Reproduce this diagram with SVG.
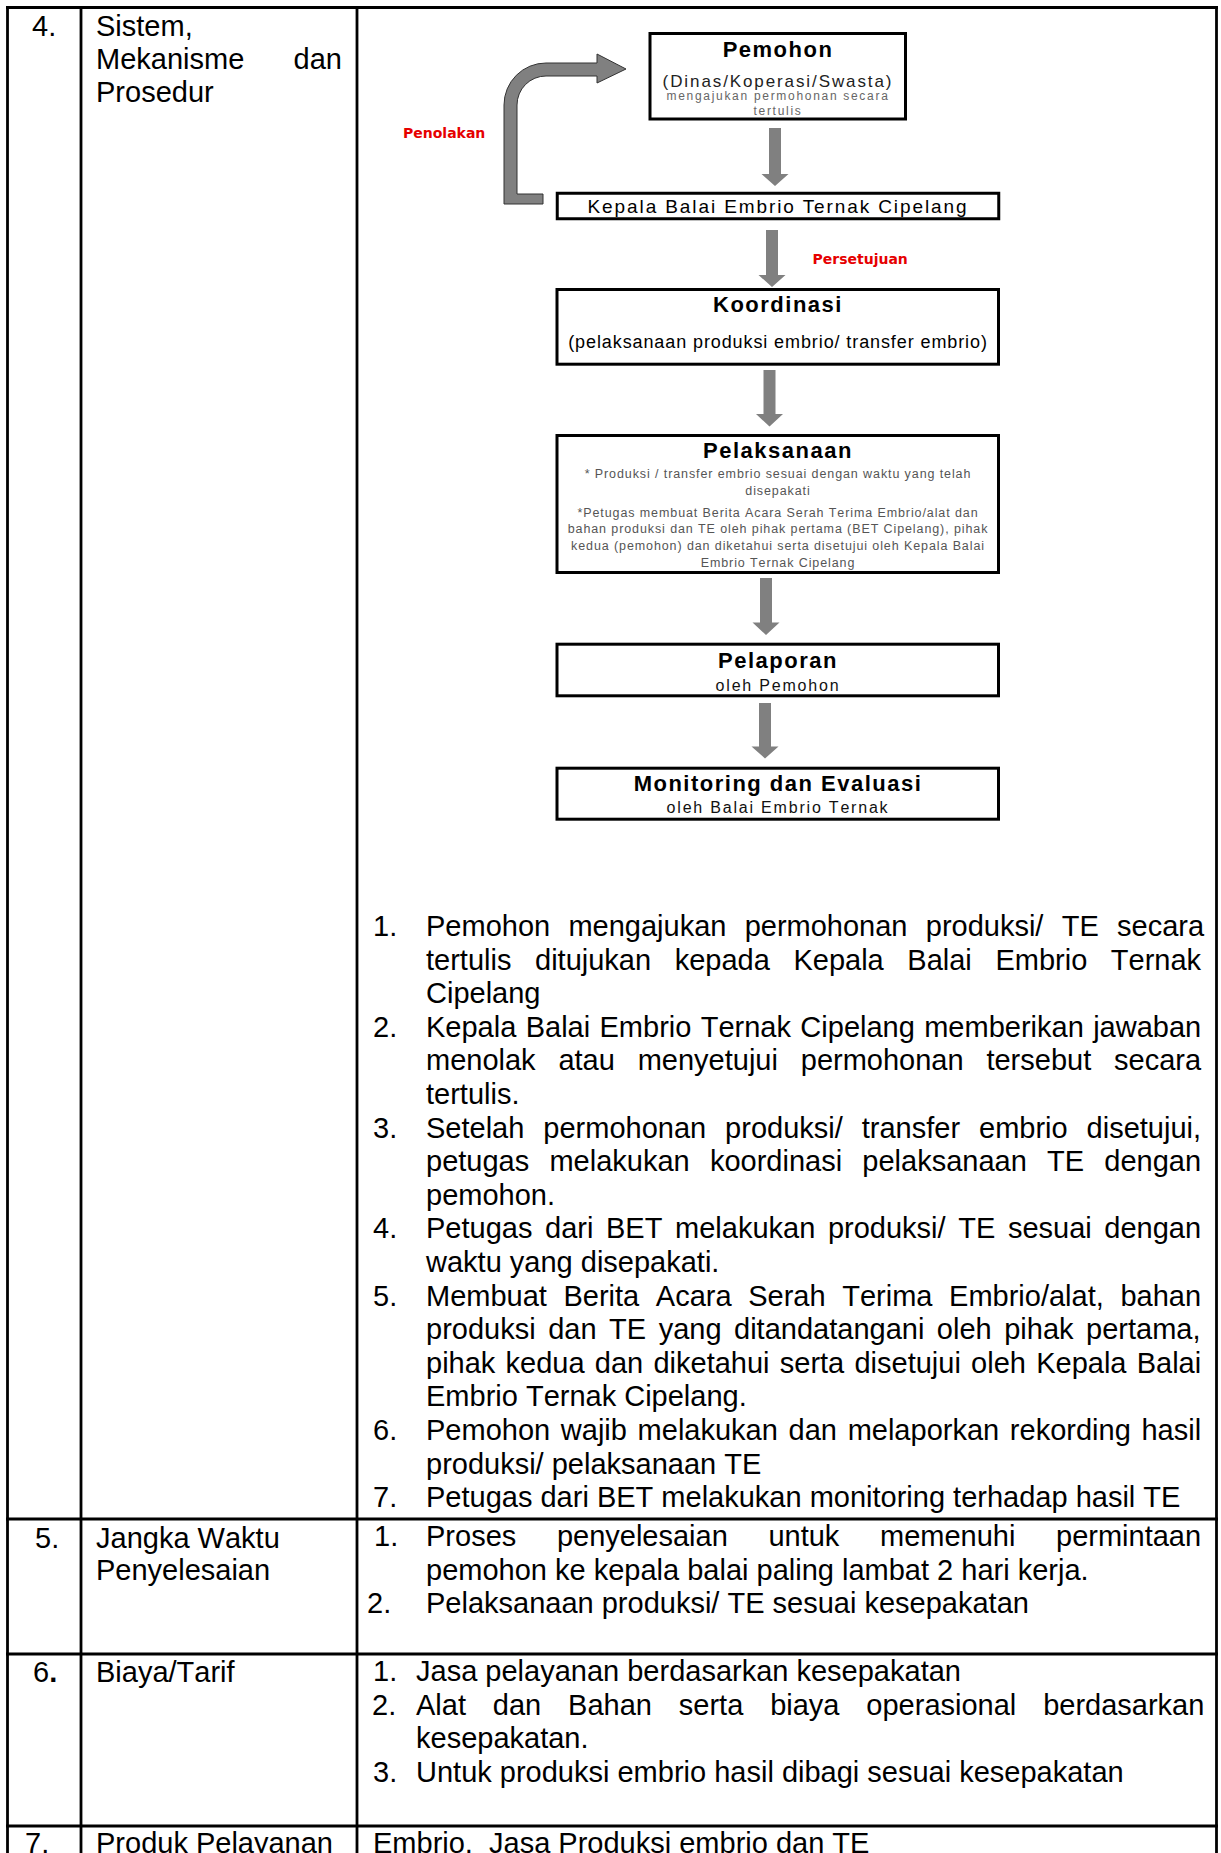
<svg xmlns="http://www.w3.org/2000/svg" width="1221" height="1853" viewBox="0 0 1221 1853">
<style>
.t{font-family:"Liberation Sans",Arial,sans-serif;font-size:29px;fill:#000;font-kerning:none}
.grid{stroke:#000;stroke-width:2.8;fill:none}
.box{fill:#fff;stroke:#000;stroke-width:3}
.hd{font-family:"Liberation Sans",Arial,sans-serif;font-weight:bold;font-size:22px;fill:#000;text-anchor:middle;letter-spacing:1.5px;font-kerning:none}
.sm{font-family:"Liberation Sans",Arial,sans-serif;font-size:12.5px;fill:#555;text-anchor:middle;letter-spacing:0.9px;font-kerning:none}
.md{font-family:"Liberation Sans",Arial,sans-serif;font-size:16px;fill:#111;text-anchor:middle;letter-spacing:1.8px;font-kerning:none}
.red{font-family:"DejaVu Sans",Verdana,sans-serif;font-weight:bold;font-size:14px;fill:#e60000}
.arr{fill:#808080}
</style>
<rect x="0" y="0" width="1221" height="1853" fill="#fff"/>

<g id="table-grid" class="grid">
<line x1="6" y1="7.5" x2="1218" y2="7.5"/>
<line x1="7.5" y1="6" x2="7.5" y2="1853"/>
<line x1="81" y1="6" x2="81" y2="1853"/>
<line x1="357" y1="6" x2="357" y2="1853"/>
<line x1="1216.5" y1="6" x2="1216.5" y2="1853"/>
<line x1="6" y1="1519" x2="1218" y2="1519"/>
<line x1="6" y1="1654" x2="1218" y2="1654"/>
<line x1="6" y1="1826" x2="1218" y2="1826"/>
</g>

<g id="row4-label" class="t">
<text x="32" y="35.5">4.</text>
<text x="96" y="35.5">Sistem,</text>
<text x="96" y="69">Mekanisme</text>
<text x="342" y="69" text-anchor="end">dan</text>
<text x="96" y="102">Prosedur</text>
</g>

<g id="connectors">
<path class="arr" d="M769 128H781V174H788.5L775 186L761.5 174H769Z"/>
<path class="arr" d="M766 230H778V275H785.5L772 287L758.5 275H766Z"/>
<path class="arr" d="M763.5 370H775.5V414H783L769.5 426.5L756 414H763.5Z"/>
<path class="arr" d="M760 578H772V622.5H779.5L766 635L752.5 622.5H760Z"/>
<path class="arr" d="M759 703H771V746.5H778.5L765 758.5L751.5 746.5H759Z"/>
<path id="penolakan-arrow" d="M543 194L517 194L517 105A29 29 0 0 1 546 76L597 76L597 83L626 69L597 54L597 63L546 63A42 42 0 0 0 504 105L504 204L543 204Z" fill="#808080" stroke="#333" stroke-width="1"/>
<text class="red" x="403" y="138">Penolakan</text>
<text class="red" x="812.5" y="264">Persetujuan</text>
</g>

<g id="node-pemohon">
<rect class="box" x="650" y="33.5" width="255.5" height="85.5"/>
<text class="hd" x="778" y="57">Pemohon</text>
<text x="778" y="87.3" font-family="Liberation Sans, Arial, sans-serif" font-size="17" fill="#222" text-anchor="middle" letter-spacing="1.9">(Dinas/Koperasi/Swasta)</text>
<text x="778" y="100" font-family="Liberation Sans, Arial, sans-serif" font-size="12" fill="#666" text-anchor="middle" letter-spacing="1.7">mengajukan permohonan secara</text>
<text x="778" y="115" font-family="Liberation Sans, Arial, sans-serif" font-size="12" fill="#666" text-anchor="middle" letter-spacing="1.7">tertulis</text>
</g>

<g id="node-kepala">
<rect class="box" x="557.25" y="193.25" width="441.5" height="25.5" stroke-width="2.5"/>
<text x="778" y="213.3" font-family="Liberation Sans, Arial, sans-serif" font-size="19" fill="#000" text-anchor="middle" letter-spacing="1.9">Kepala Balai Embrio Ternak Cipelang</text>
</g>

<g id="node-koordinasi">
<rect class="box" x="557" y="289.5" width="441.5" height="74.7"/>
<text class="hd" x="778" y="312.3">Koordinasi</text>
<text x="778" y="348" font-family="Liberation Sans, Arial, sans-serif" font-size="18" fill="#000" text-anchor="middle" letter-spacing="0.9">(pelaksanaan produksi embrio/ transfer embrio)</text>
</g>

<g id="node-pelaksanaan">
<rect class="box" x="557" y="435.5" width="441.5" height="137"/>
<text class="hd" x="778" y="458">Pelaksanaan</text>
<text class="sm" x="778" y="478.3">* Produksi / transfer embrio sesuai dengan waktu yang telah</text>
<text class="sm" x="778" y="495">disepakati</text>
<text class="sm" x="778" y="516.7">*Petugas membuat Berita Acara Serah Terima Embrio/alat dan</text>
<text class="sm" x="778" y="533.3">bahan produksi dan TE oleh pihak pertama (BET Cipelang), pihak</text>
<text class="sm" x="778" y="550">kedua (pemohon) dan diketahui serta disetujui oleh Kepala Balai</text>
<text class="sm" x="778" y="566.7">Embrio Ternak Cipelang</text>
</g>

<g id="node-pelaporan">
<rect class="box" x="557" y="644.2" width="441.5" height="51.6"/>
<text class="hd" x="778" y="668.3">Pelaporan</text>
<text class="md" x="778" y="690.7">oleh Pemohon</text>
</g>

<g id="node-monitoring">
<rect class="box" x="557" y="768.2" width="441.5" height="51"/>
<text class="hd" x="778" y="790.7">Monitoring dan Evaluasi</text>
<text class="md" x="778" y="813.3">oleh Balai Embrio Ternak</text>
</g>

<g id="row4-list" class="t">
<text x="373" y="936">1.</text>
<text x="426" y="936" word-spacing="10.2">Pemohon mengajukan permohonan produksi/ TE secara</text>
<text x="426" y="969.6" word-spacing="15.54">tertulis ditujukan kepada Kepala Balai Embrio Ternak</text>
<text x="426" y="1003.2">Cipelang</text>
<text x="373" y="1036.8">2.</text>
<text x="426" y="1036.8" word-spacing="1.31">Kepala Balai Embrio Ternak Cipelang memberikan jawaban</text>
<text x="426" y="1070.4" word-spacing="14.76">menolak atau menyetujui permohonan tersebut secara</text>
<text x="426" y="1104">tertulis.</text>
<text x="373" y="1137.6">3.</text>
<text x="426" y="1137.6" word-spacing="10.9">Setelah permohonan produksi/ transfer embrio disetujui,</text>
<text x="426" y="1171.2" word-spacing="12.18">petugas melakukan koordinasi pelaksanaan TE dengan</text>
<text x="426" y="1204.8">pemohon.</text>
<text x="373" y="1238.4">4.</text>
<text x="426" y="1238.4" word-spacing="4.57">Petugas dari BET melakukan produksi/ TE sesuai dengan</text>
<text x="426" y="1272">waktu yang disepakati.</text>
<text x="373" y="1305.6">5.</text>
<text x="426" y="1305.6" word-spacing="8.55">Membuat Berita Acara Serah Terima Embrio/alat, bahan</text>
<text x="426" y="1339.2" word-spacing="4.47">produksi dan TE yang ditandatangani oleh pihak pertama,</text>
<text x="426" y="1372.8" word-spacing="2.18">pihak kedua dan diketahui serta disetujui oleh Kepala Balai</text>
<text x="426" y="1406.4">Embrio Ternak Cipelang.</text>
<text x="373" y="1440">6.</text>
<text x="426" y="1440" word-spacing="2.64">Pemohon wajib melakukan dan melaporkan rekording hasil</text>
<text x="426" y="1473.6">produksi/ pelaksanaan TE</text>
<text x="373" y="1507.2">7.</text>
<text x="426" y="1507.2">Petugas dari BET melakukan monitoring terhadap hasil TE</text>
</g>

<g id="row5" class="t">
<text x="35" y="1547.5">5.</text>
<text x="96" y="1547.5">Jangka Waktu</text>
<text x="96" y="1580">Penyelesaian</text>
<text x="374" y="1546">1.</text>
<text x="426" y="1546" word-spacing="32.57">Proses penyelesaian untuk memenuhi permintaan</text>
<text x="426" y="1579.5">pemohon ke kepala balai paling lambat 2 hari kerja.</text>
<text x="367" y="1613">2.</text>
<text x="426" y="1613">Pelaksanaan produksi/ TE sesuai kesepakatan</text>
</g>

<g id="row6" class="t">
<text x="33" y="1681.5">6<tspan font-weight="bold">.</tspan></text>
<text x="96" y="1681.5">Biaya/Tarif</text>
<text x="373" y="1681">1.</text>
<text x="416" y="1681">Jasa pelayanan berdasarkan kesepakatan</text>
<text x="372" y="1714.6">2.</text>
<text x="416" y="1714.6" word-spacing="18.81">Alat dan Bahan serta biaya operasional berdasarkan</text>
<text x="416" y="1748.2">kesepakatan.</text>
<text x="373" y="1781.8">3.</text>
<text x="416" y="1781.8">Untuk produksi embrio hasil dibagi sesuai kesepakatan</text>
</g>

<g id="row7" class="t">
<text x="25" y="1852.5">7.</text>
<text x="96" y="1852.5">Produk Pelayanan</text>
<text x="373" y="1852.5" xml:space="preserve">Embrio,  Jasa Produksi embrio dan TE</text>
</g>
</svg>
